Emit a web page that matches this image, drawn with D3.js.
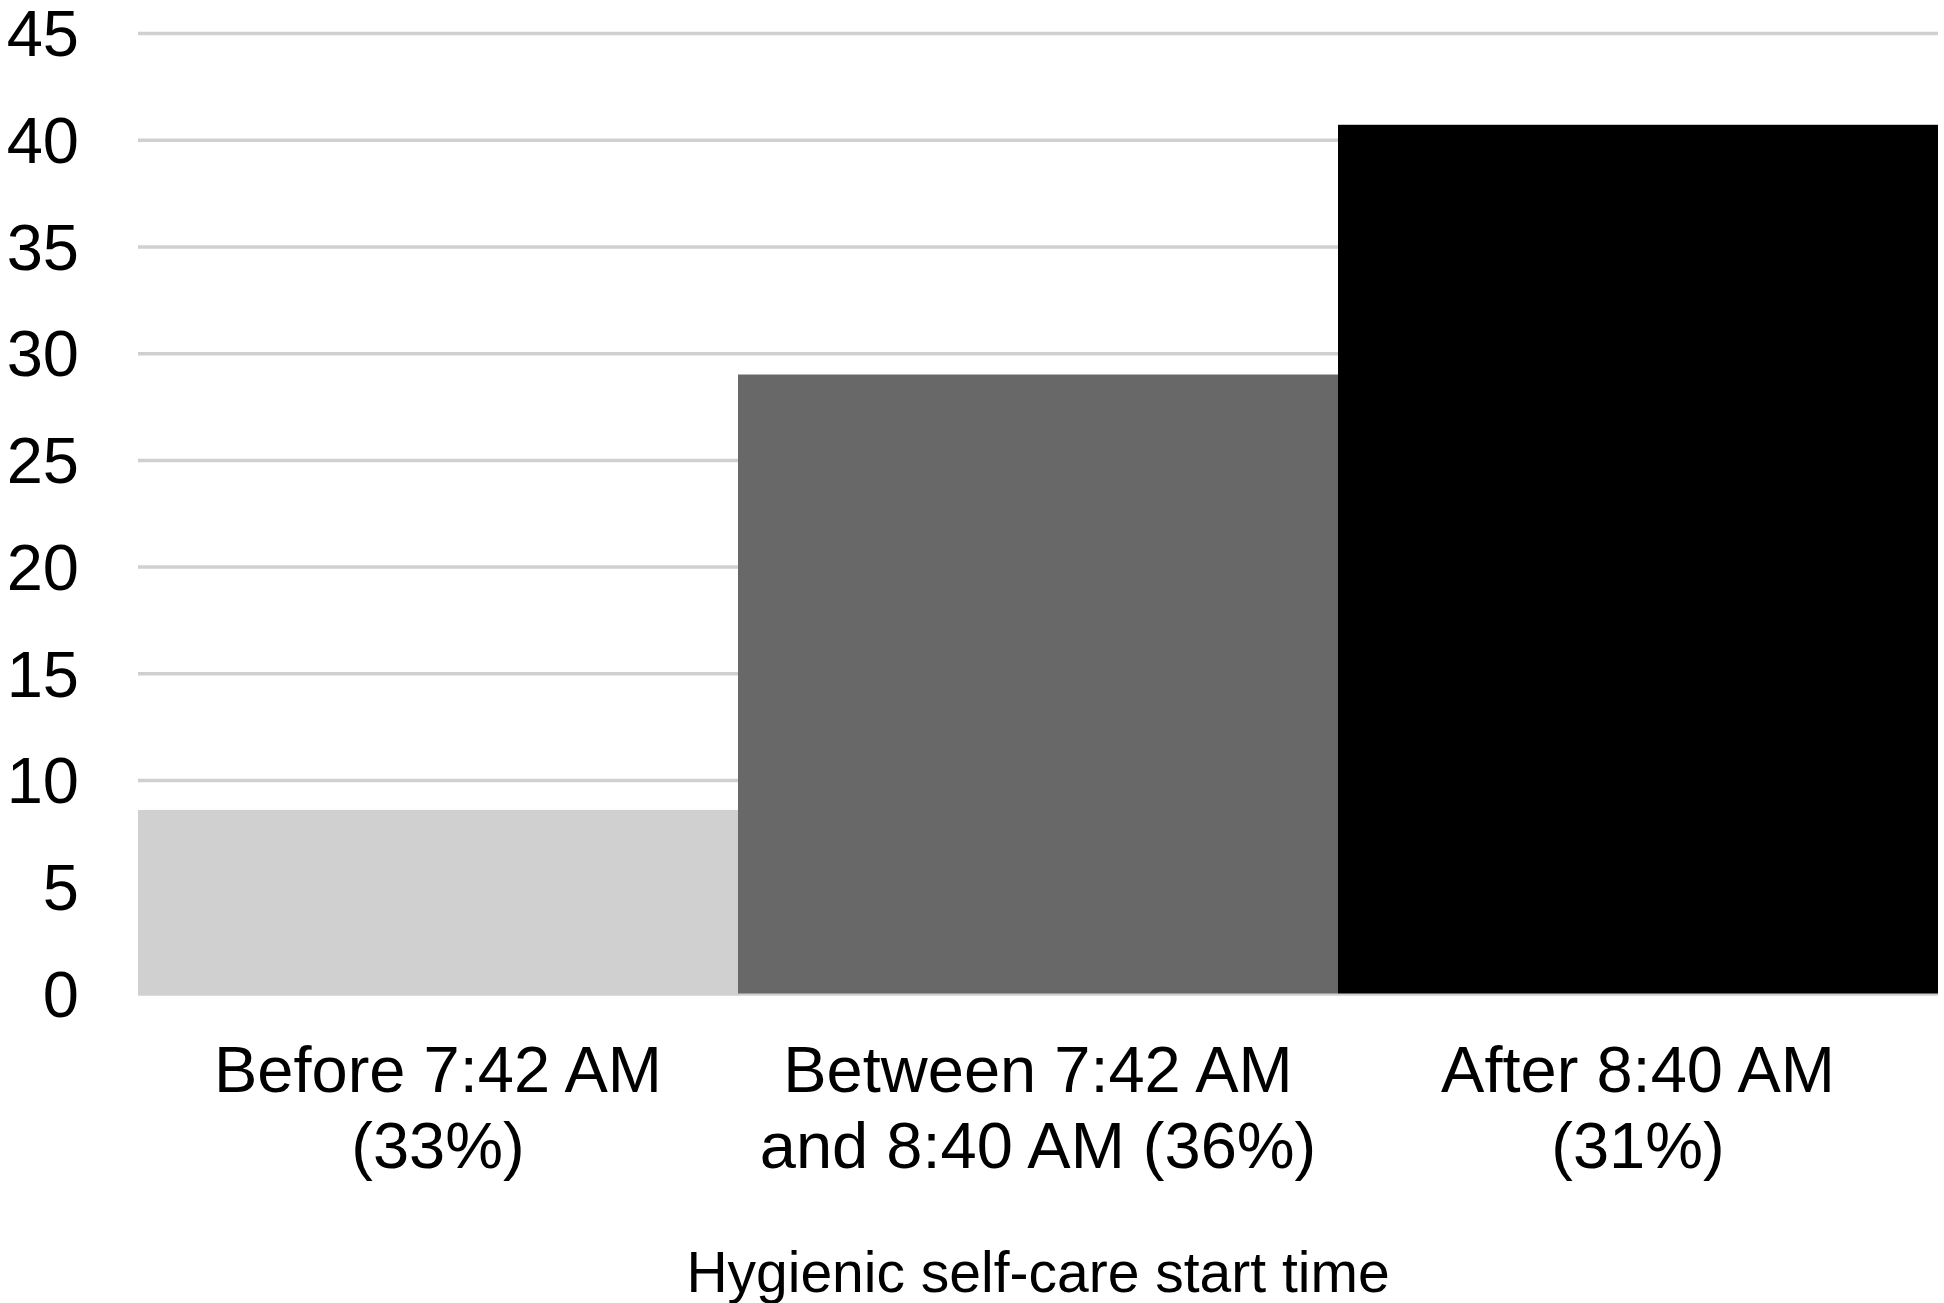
<!DOCTYPE html>
<html>
<head>
<meta charset="utf-8">
<script src="https://cdn.jsdelivr.net/npm/d3@7"></script>
<style>
	body { margin: 0; background: #fff; }
	text { font-family: "Liberation Sans", Arial, sans-serif; fill: #000; }
</style>
</head>
<body>
<svg></svg>
<script>
const width = 1944
const height = 1303

// chart data
const categories = ['before', 'between', 'after']
const labelLines = [
	['Before 7:42 AM', '(33%)'],
	['Between 7:42 AM', 'and 8:40 AM (36%)'],
	['After 8:40 AM', '(31%)']
]
const values = [8.6, 29.0, 40.7]
const barColors = ['#d0d0d0', '#686868', '#000000']
const yTicks = [0, 5, 10, 15, 20, 25, 30, 35, 40, 45]
const xTitle = 'Hygienic self-care start time'

const margin = { top: 33, right: 6, bottom: 309.5, left: 138 }
const innerW = width - margin.left - margin.right
const innerH = height - margin.top - margin.bottom

const svg = d3.select('svg')
	.attr('width', width)
	.attr('height', height)

const g = svg.append('g')
	.attr('transform', `translate(${margin.left},${margin.top})`)

const x = d3.scaleBand()
	.domain(categories)
	.range([0, innerW])
	.padding(0)

const y = d3.scaleLinear()
	.domain([0, 45])
	.range([innerH, 0])

// gridlines + y labels
const yAxis = g.append('g')
	.call(d3.axisLeft(y)
		.tickValues(yTicks)
		.tickSize(-innerW)
		.tickPadding(59))
yAxis.select('.domain').remove()
yAxis.selectAll('.tick line')
	.attr('stroke', '#d0d0d0')
	.attr('stroke-width', 3.5)
yAxis.selectAll('.tick text')
	.attr('font-size', 65)
	.attr('dy', '0.35em')
	.style('font-family', '"Liberation Sans", Arial, sans-serif')
	.attr('fill', '#000')

// bars
g.selectAll('rect.bar')
	.data(values)
	.enter()
	.append('rect')
	.attr('class', 'bar')
	.attr('x', (d, i) => x(categories[i]))
	.attr('width', x.bandwidth())
	.attr('y', d => y(d))
	.attr('height', d => y(0) - y(d))
	.attr('fill', (d, i) => barColors[i])

// x labels
const xAxis = g.append('g')
	.attr('transform', `translate(0,${innerH})`)
	.call(d3.axisBottom(x).tickSize(0).tickFormat(''))
xAxis.select('.domain').remove()
xAxis.selectAll('.tick')
	.each(function (d, i) {
		const t = d3.select(this).append('text')
			.attr('text-anchor', 'middle')
			.attr('font-size', 65)
			.style('font-family', '"Liberation Sans", Arial, sans-serif')
			.attr('fill', '#000')
		labelLines[i].forEach((line, k) => {
			t.append('tspan')
				.attr('x', 0)
				.attr('y', 98.5 + k * 76)
				.text(line)
		})
	})

// axis title
svg.append('text')
	.attr('x', margin.left + innerW / 2)
	.attr('y', 1292)
	.attr('text-anchor', 'middle')
	.attr('font-size', 57)
	.text(xTitle)
</script>
</body>
</html>
